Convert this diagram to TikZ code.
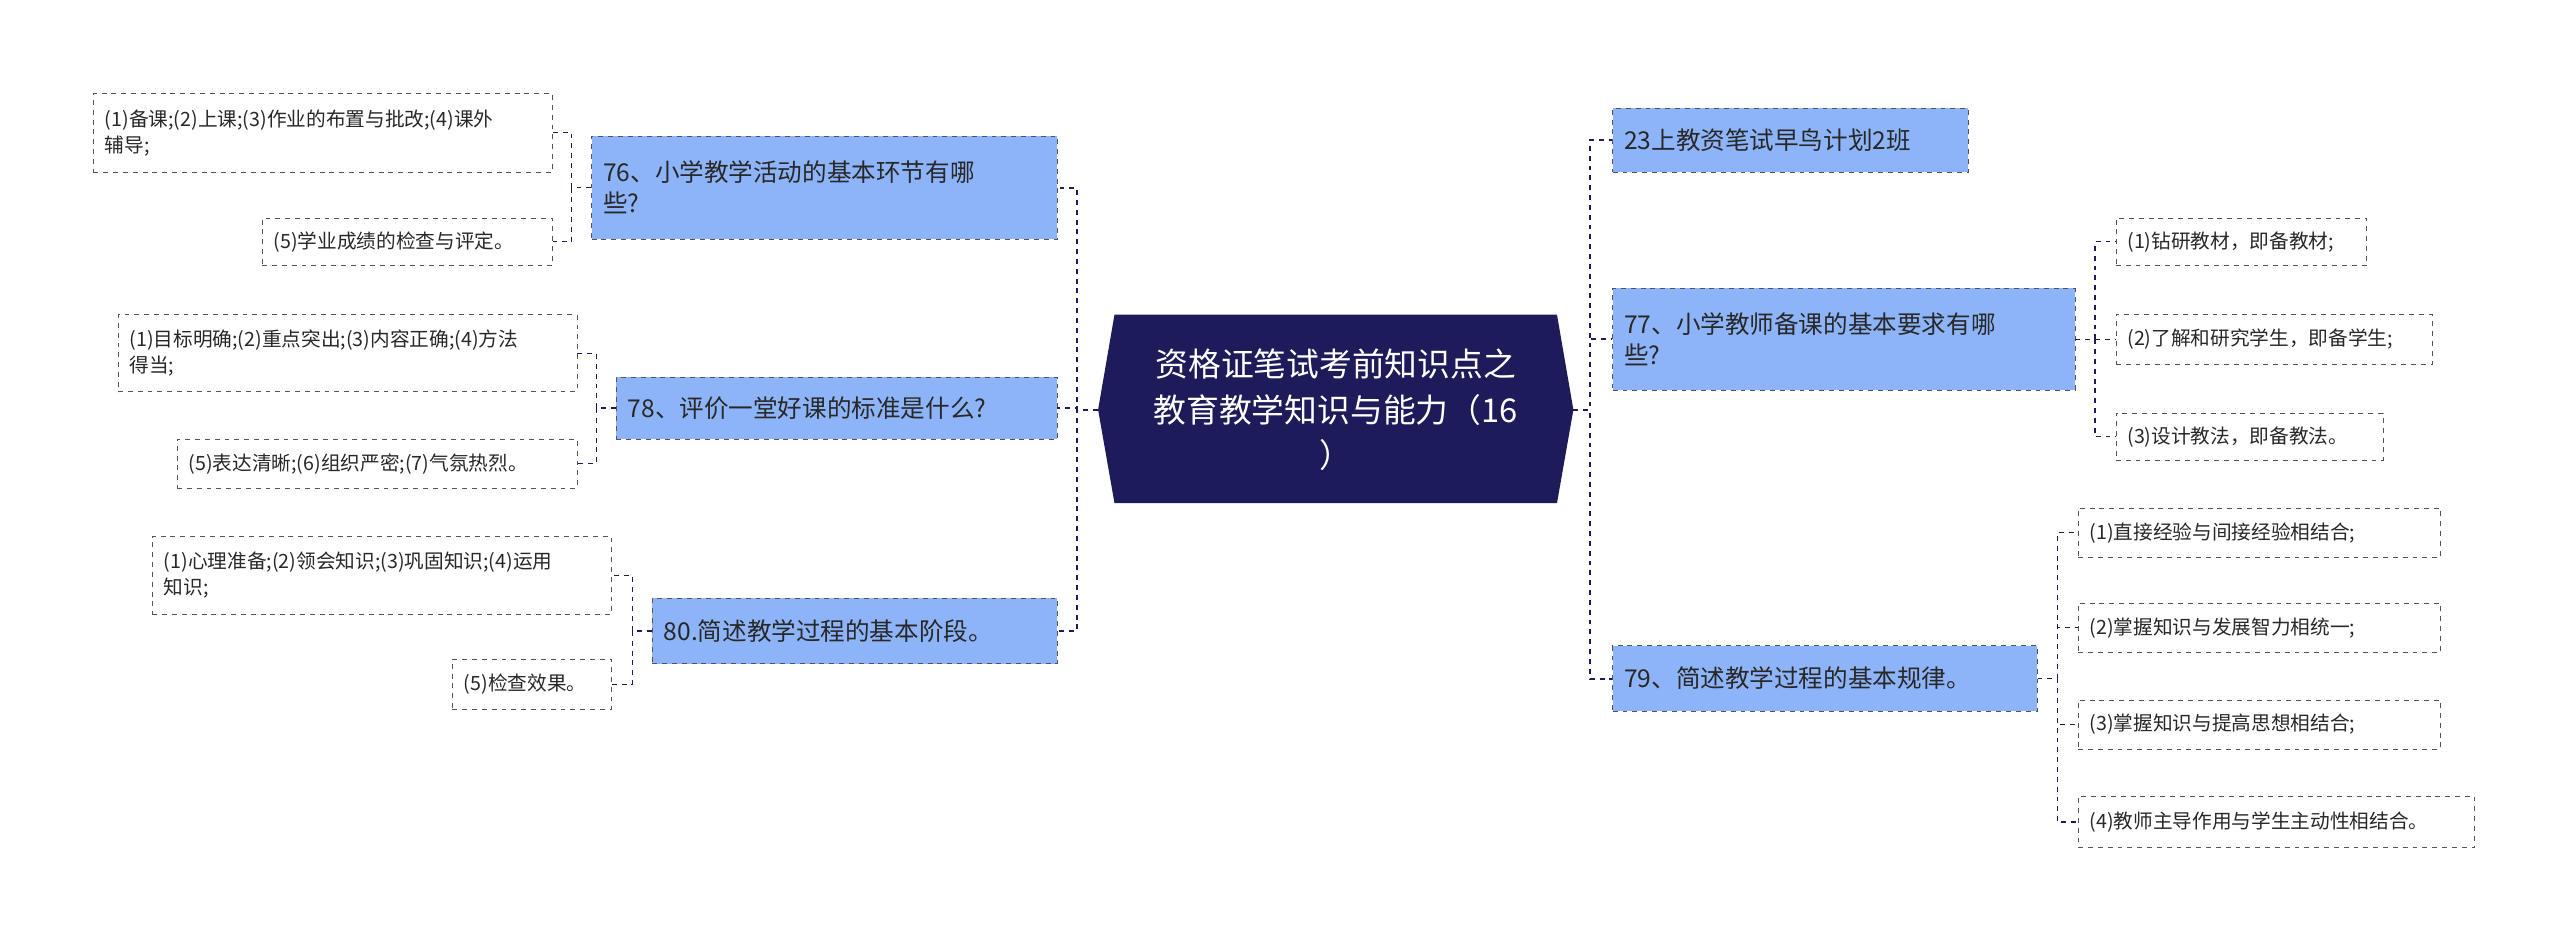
\documentclass[tikz,border=0pt]{standalone}
\usepackage{fontspec}
\setmainfont{Noto Sans CJK SC}
\definecolor{navy}{RGB}{30,27,90}
\definecolor{lblue}{RGB}{141,180,249}
\definecolor{tx}{RGB}{40,40,40}
\tikzset{
 lvone/.style={draw=tx!80,dashed,fill=lblue,text=tx,font=\fontsize{15}{19}\selectfont,align=left},
 leaf/.style={draw=tx!80,dashed,fill=white,text=tx,font=\fontsize{12}{16}\selectfont,align=left},
 conn/.style={draw=navy,dashed,line width=1.2pt}
}
\newcommand\bx[7]{\pgfmathsetmacro\cx{(#2+#4)/2}\pgfmathsetmacro\cy{(#3+#5)/2}\pgfmathsetmacro\ww{#4-#2}\pgfmathsetmacro\hh{#5-#3}\pgfmathsetmacro\tw{#4-#2-14}\node[#6,minimum width=\ww pt,minimum height=\hh pt,text width=\tw pt,inner sep=0pt] (#1) at (\cx,\cy) {#7};}
\begin{document}
\begin{tikzpicture}[x=1pt,y=-1pt]
\useasboundingbox (0,0) rectangle (1562,573);
\fill[navy] (680,192)--(950,192)--(960,250)--(950,307)--(680,307)--(670,250)--cycle;
\node[text=white,font=\fontsize{20}{28}\selectfont,align=center] (cen) at (815,250) {资格证笔试考前知识点之\\教育教学知识与能力（16\\）};
\coordinate (cenL) at (670,250);
\coordinate (cenR) at (960,250);
\bx{n76}{361}{83}{645}{146}{lvone}{76、小学教学活动的基本环节有哪\\些?}
\bx{n78}{376}{230}{645}{268}{lvone}{78、评价一堂好课的标准是什么?}
\bx{n80}{398}{365}{645}{405}{lvone}{80.简述教学过程的基本阶段。}
\bx{n23}{984}{66}{1201}{105}{lvone}{23上教资笔试早鸟计划2班}
\bx{n77}{984}{176}{1266}{238}{lvone}{77、小学教师备课的基本要求有哪\\些?}
\bx{n79}{984}{394}{1243}{434}{lvone}{79、简述教学过程的基本规律。}
\bx{a1}{57}{57}{337}{105}{leaf}{(1)备课;(2)上课;(3)作业的布置与批改;(4)课外\\辅导;}
\bx{a2}{160}{133}{337}{162}{leaf}{(5)学业成绩的检查与评定。}
\bx{b1}{72}{192}{352}{239}{leaf}{(1)目标明确;(2)重点突出;(3)内容正确;(4)方法\\得当;}
\bx{b2}{108}{268}{352}{298}{leaf}{(5)表达清晰;(6)组织严密;(7)气氛热烈。}
\bx{c1}{93}{327}{373}{375}{leaf}{(1)心理准备;(2)领会知识;(3)巩固知识;(4)运用\\知识;}
\bx{c2}{276}{402}{373}{433}{leaf}{(5)检查效果。}
\bx{d1}{1291}{133}{1444}{162}{leaf}{(1)钻研教材，即备教材;}
\bx{d2}{1291}{192}{1484}{222}{leaf}{(2)了解和研究学生，即备学生;}
\bx{d3}{1291}{252}{1454}{281}{leaf}{(3)设计教法，即备教法。}
\bx{e1}{1268}{310}{1489}{340}{leaf}{(1)直接经验与间接经验相结合;}
\bx{e2}{1268}{368}{1489}{398}{leaf}{(2)掌握知识与发展智力相统一;}
\bx{e3}{1268}{427}{1489}{457}{leaf}{(3)掌握知识与提高思想相结合;}
\bx{e4}{1268}{486}{1510}{517}{leaf}{(4)教师主导作用与学生主动性相结合。}
\foreach \t in {n76,n78,n80} \draw[conn] (cenL) -- ++(-13,0) |- (\t.east);
\foreach \t in {n23,n77,n79} \draw[conn] (cenR) -- ++(10,0) |- (\t.west);
\foreach \t in {a1,a2} \draw[conn,line width=0.8pt] (n76.west) -- ++(-12,0) |- (\t.east);
\foreach \t in {b1,b2} \draw[conn,line width=0.8pt] (n78.west) -- ++(-12,0) |- (\t.east);
\foreach \t in {c1,c2} \draw[conn,line width=0.8pt] (n80.west) -- ++(-12,0) |- (\t.east);
\foreach \t in {d1,d2,d3} \draw[conn,line width=0.8pt] (n77.east) -- ++(12,0) |- (\t.west);
\foreach \t in {e1,e2,e3,e4} \draw[conn,line width=0.8pt] (n79.east) -- ++(12,0) |- (\t.west);
\end{tikzpicture}
\end{document}
